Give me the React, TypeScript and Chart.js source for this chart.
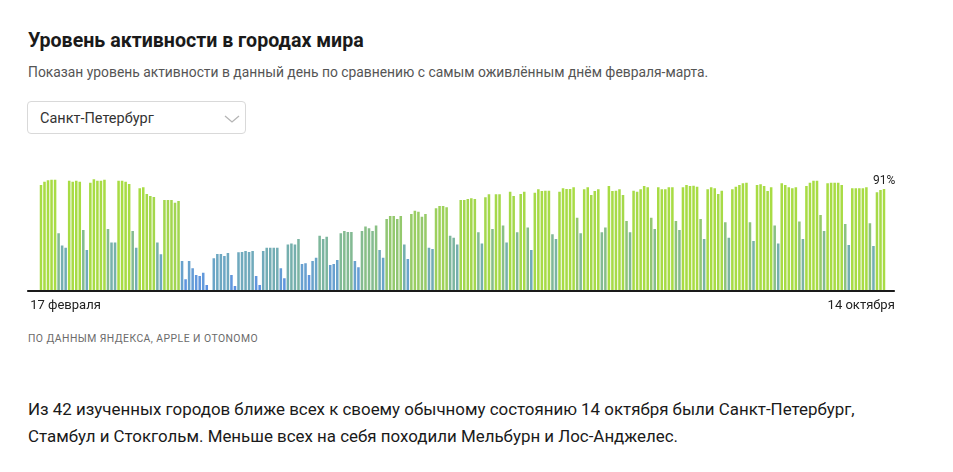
import React, { useEffect, useRef } from 'react';
import { Chart, registerables } from 'chart.js';

Chart.register(...registerables);

// Daily activity level in Saint Petersburg, % of the busiest day of Feb–Mar
const activity: number[] = [
  94.6, 97.6, 98.8, 99.4, 99.4, 51.1, 40.2, 38.1, 98.5, 97.6,
  98.5, 97.6, 54.1, 36.0, 96.7, 99.7, 98.5, 98.5, 99.4, 55.0,
  42.9, 42.9, 98.5, 98.5, 97.6, 95.5, 53.2, 38.1, 91.6, 92.5,
  86.5, 84.7, 83.8, 42.9, 32.1, 81.1, 81.1, 81.1, 78.7, 80.2,
  26.1, 9.6, 26.1, 19.5, 13.5, 12.6, 15.6, 4.5, 0, 28.5,
  32.4, 32.4, 30.6, 33.3, 13.5, 3.6, 33.9, 34.2, 35.1, 34.2,
  35.1, 12.6, 4.5, 35.1, 38.1, 38.1, 38.1, 38.1, 19.5, 10.5,
  41.1, 42.0, 41.1, 45.9, 23.4, 24.0, 13.5, 26.1, 29.1, 48.9,
  45.9, 48.0, 22.5, 23.4, 27.0, 51.1, 53.2, 52.3, 52.3, 26.1,
  20.4, 53.2, 57.1, 55.6, 53.2, 58.0, 36.0, 29.1, 64.0, 66.7,
  66.7, 64.0, 66.7, 41.1, 27.9, 68.5, 71.5, 70.6, 66.1, 68.5,
  38.1, 36.9, 73.6, 75.7, 75.7, 74.5, 48.9, 47.1, 41.1, 81.1,
  81.1, 82.0, 82.6, 82.0, 52.0, 42.0, 83.5, 86.2, 55.0, 86.2,
  86.2, 58.0, 42.9, 88.6, 84.7, 52.0, 86.5, 88.6, 56.2, 36.0,
  87.7, 90.7, 89.2, 89.5, 89.5, 50.2, 45.9, 88.6, 91.6, 91.0,
  91.0, 92.5, 65.2, 51.1, 90.7, 92.5, 85.6, 89.2, 90.7, 52.0,
  56.2, 93.7, 89.2, 89.5, 90.7, 85.6, 62.2, 52.0, 89.5, 88.6,
  90.7, 93.7, 92.5, 65.2, 55.0, 92.5, 90.7, 90.7, 92.5, 92.5,
  62.2, 54.1, 92.5, 94.6, 93.7, 94.0, 93.1, 64.0, 45.9, 90.7,
  92.5, 91.6, 86.5, 89.5, 61.0, 47.1, 90.7, 93.1, 94.6, 96.1,
  96.7, 61.0, 44.1, 94.6, 95.2, 93.7, 89.2, 92.5, 58.0, 42.0,
  96.1, 94.6, 92.5, 91.6, 92.5, 61.6, 45.9, 93.7, 96.7, 98.5,
  98.5, 67.6, 53.2, 96.1, 96.7, 96.7, 96.7, 94.6, 59.5, 40.5,
  91.6, 91.6, 91.6, 91.6, 92.5, 60.1, 39.6, 88.0, 90.1, 91.0,
];

const days: string[] = activity.map((_, i) => `day ${i + 1}`);
const tickLabels: string[] = ['17 февраля', '14 октября'];

const colorStops: [number, [number, number, number]][] = [
  [0, [90, 142, 228]],
  [15, [98, 152, 220]],
  [30, [108, 166, 198]],
  [42, [118, 176, 172]],
  [55, [134, 189, 140]],
  [68, [150, 202, 105]],
  [80, [162, 214, 80]],
  [92, [168, 220, 68]],
  [100, [168, 220, 68]],
];

function barColor(v: number): string {
  for (let i = 1; i < colorStops.length; i++) {
    const [v1, c1] = colorStops[i];
    const [v0, c0] = colorStops[i - 1];
    if (v <= v1) {
      const t = (v - v0) / (v1 - v0);
      const c = c0.map((x, k) => Math.round(x + (c1[k] - x) * t));
      return `rgb(${c[0]},${c[1]},${c[2]})`;
    }
  }
  return 'rgb(168,220,68)';
}

const FONT = 'Roboto, "Noto Sans", Arial, sans-serif';

const overlayPlugin = {
  id: 'overlay',
  afterDatasetsDraw(chart: any) {
    const { ctx, chartArea } = chart;
    ctx.save();
    // baseline
    ctx.fillStyle = '#1a1a1a';
    ctx.fillRect(chartArea.left - 12, chartArea.bottom, chartArea.right - chartArea.left + 21, 2);
    // tick labels
    ctx.fillStyle = '#222';
    ctx.font = `13px ${FONT}`;
    ctx.textBaseline = 'middle';
    ctx.textAlign = 'left';
    ctx.fillText(tickLabels[0], chartArea.left - 9, chartArea.bottom + 16);
    ctx.textAlign = 'right';
    ctx.fillText(tickLabels[1], chartArea.right + 9, chartArea.bottom + 16);
    // last value label
    const meta = chart.getDatasetMeta(0);
    const last = meta.data[meta.data.length - 1];
    const lastVal = activity[activity.length - 1];
    ctx.font = `12px ${FONT}`;
    ctx.textAlign = 'center';
    ctx.textBaseline = 'bottom';
    ctx.fillStyle = '#222';
    ctx.fillText(`${Math.round(lastVal)}%`, last.x, last.y - 2);
    ctx.restore();
  },
};

function ActivityChart() {
  const ref = useRef<HTMLCanvasElement | null>(null);
  useEffect(() => {
    if (!ref.current) return;
    const chart = new Chart(ref.current, {
      type: 'bar',
      data: {
        labels: days,
        datasets: [
          {
            data: activity,
            backgroundColor: activity.map(barColor),
            borderWidth: 0,
            barPercentage: 0.72,
            categoryPercentage: 1,
          },
        ],
      },
      options: {
        animation: false,
        responsive: false,
        maintainAspectRatio: false,
        layout: { padding: { top: 19, bottom: 30, left: 19.2, right: 19.2 } },
        plugins: { legend: { display: false }, tooltip: { enabled: false } },
        scales: {
          x: { display: false, offset: true },
          y: { display: false, min: 0, max: 100 },
        },
      },
      plugins: [overlayPlugin],
    });
    return () => chart.destroy();
  }, []);
  return (
    <canvas
      ref={ref}
      width={885}
      height={160}
      style={{ position: 'absolute', left: 20 - 8, top: 160 - 8, width: 885, height: 160 }}
    />
  );
}

export default function App() {
  const abs = (x: number, y: number): React.CSSProperties => ({ position: 'absolute', left: x - 8, top: y - 8 });
  return (
    <div style={{ position: 'relative', width: 937, height: 456, fontFamily: FONT, color: '#222' }}>
      <div style={{ ...abs(28, 30.5), fontSize: 19.6, fontWeight: 700, lineHeight: '19.6px', whiteSpace: 'nowrap', color: '#1a1a1a' }}>
        Уровень активности в городах мира
      </div>
      <div style={{ ...abs(28, 65.5), fontSize: 13.85, lineHeight: '13.85px', whiteSpace: 'nowrap', color: '#555' }}>
        Показан уровень активности в данный день по сравнению с самым оживлённым днём февраля-марта.
      </div>
      <div
        style={{
          ...abs(27, 101),
          width: 219,
          height: 33,
          boxSizing: 'border-box',
          border: '1px solid #d9d9d9',
          borderRadius: 4,
        }}
      >
        <div style={{ position: 'absolute', left: 12, top: 10, fontSize: 14.5, lineHeight: '14.5px', color: '#333', whiteSpace: 'nowrap' }}>
          Санкт-Петербург
        </div>
        <svg width="16" height="10" style={{ position: 'absolute', left: 196, top: 12 }}>
          <polyline points="1,2 8,8 15,2" fill="none" stroke="#b5b5b5" strokeWidth="1.3" />
        </svg>
      </div>
      <ActivityChart />
      <div style={{ ...abs(28, 334), fontSize: 10.4, lineHeight: '10.4px', letterSpacing: 0.45, color: '#6b6b6b', whiteSpace: 'nowrap' }}>
        ПО ДАННЫМ ЯНДЕКСА, APPLE И OTONOMO
      </div>
      <div style={{ ...abs(28, 396), width: 900, fontSize: 16.9, lineHeight: '27px', color: '#1a1a1a' }}>
        Из 42 изученных городов ближе всех к своему обычному состоянию 14 октября были Санкт-Петербург,
        <br />
        Стамбул и Стокгольм. Меньше всех на себя походили Мельбурн и Лос-Анджелес.
      </div>
    </div>
  );
}
